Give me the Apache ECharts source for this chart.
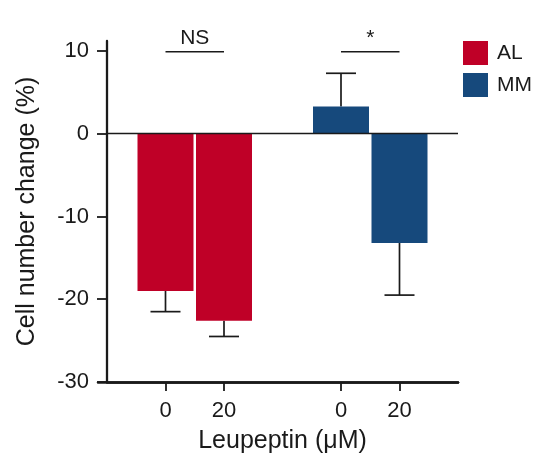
<!DOCTYPE html>
<html>
<head>
<meta charset="utf-8">
<script src="https://cdn.jsdelivr.net/npm/echarts@6/dist/echarts.min.js"></script>
<style>
  html, body { margin: 0; padding: 0; background: #fff; }
  #chart { width: 536px; height: 468px; }
</style>
</head>
<body>
<div id="chart"></div>
<script>
// ---- data ----
const categories = ['', '0', '20', '', '0', '20', ''];
const alValues = ['-', -19.0, -22.6, '-', '-', '-', '-'];
const mmValues = ['-', '-', '-', '-', 3.3, -13.2, '-'];
const alErrors = [null, 2.5, 1.9, null, null, null, null];
const mmErrors = [null, null, null, null, 4.0, 6.3, null];
const yTickValues = [-30, -20, -10, 0, 10];
const sigStart = [1, 4];
const sigEnd = [2, 5];
const sigLevel = [9.9, 9.9];
const sigLabels = ['NS', '*'];

// ---- build error-bar data from the arrays ----
function errData(values, errors) {
  const out = [];
  values.forEach((v, i) => {
    if (v !== '-' && errors[i] != null) {
      out.push([i, v, v + Math.sign(v) * errors[i]]);
    }
  });
  return out;
}
const errorData = errData(alValues, alErrors).concat(errData(mmValues, mmErrors));
const sigData = sigStart.map((s, i) => [s, sigEnd[i], sigLevel[i]]);

const FONT = '"Liberation Sans", Arial, Helvetica, sans-serif';
const TXT = '#1a1a1a';
const LINE = '#1a1a1a';

const chart = echarts.init(document.getElementById('chart'), null, { renderer: 'canvas' });

chart.setOption({
  animation: false,
  backgroundColor: '#fff',
  textStyle: { fontFamily: FONT },
  legend: {
    data: ['AL', 'MM'],
    orient: 'vertical',
    left: 458,
    top: 36,
    itemWidth: 25,
    itemHeight: 24,
    itemGap: 8,
    icon: 'rect',
    textStyle: { fontSize: 21, color: TXT, fontFamily: FONT, padding: [0, 0, 0, 4] }
  },
  grid: [
    { left: 107, right: 78, top: 41, bottom: 86, containLabel: false },
    { left: 98, right: 78, top: 41, bottom: 86, containLabel: false }
  ],
  xAxis: [
    {
      gridIndex: 0,
      type: 'category',
      data: categories,
      boundaryGap: false,
      axisLine: { onZero: false, lineStyle: { color: LINE, width: 2.5 } },
      axisTick: {
        show: true,
        inside: false,
        length: 9,
        interval: (idx, val) => val !== '',
        lineStyle: { color: LINE, width: 1.8 }
      },
      axisLabel: {
        interval: 0,
        fontSize: 22,
        color: TXT,
        margin: 18,
        fontFamily: FONT
      },
      splitLine: { show: false },
      name: 'Leupeptin (\u03bcM)',
      nameLocation: 'middle',
      nameGap: 47,
      nameTextStyle: { fontSize: 25, color: TXT, fontFamily: FONT }
    },
    {
      gridIndex: 1,
      type: 'value',
      min: 0,
      max: 1,
      axisLine: { show: true, onZero: false, lineStyle: { color: LINE, width: 2.5 } },
      axisTick: { show: false },
      axisLabel: { show: false },
      splitLine: { show: false }
    }
  ],
  yAxis: [
    {
      gridIndex: 0,
      type: 'value',
      min: -30,
      max: 11.2,
      interval: 10,
      axisLine: { show: true, lineStyle: { color: LINE, width: 2.3 } },
      axisTick: {
        show: true,
        length: 10,
        customValues: yTickValues,
        lineStyle: { color: LINE, width: 1.8 }
      },
      axisLabel: {
        customValues: yTickValues,
        fontSize: 22,
        color: TXT,
        margin: 18,
        fontFamily: FONT
      },
      splitLine: { show: false },
      name: 'Cell number change (%)',
      nameLocation: 'middle',
      nameGap: 67,
      nameTextStyle: { fontSize: 25, color: TXT, fontFamily: FONT }
    },
    {
      gridIndex: 1,
      type: 'value',
      show: false
    }
  ],
  series: [
    {
      name: 'AL',
      type: 'bar',
      xAxisIndex: 0,
      yAxisIndex: 0,
      data: alValues,
      barWidth: 56,
      barGap: '-100%',
      itemStyle: { color: '#bf0027' },
      z: 3,
      markLine: {
        silent: true,
        symbol: ['none', 'none'],
        label: { show: false },
        lineStyle: { color: LINE, width: 1.4, type: 'solid' },
        data: [{ yAxis: 0 }]
      }
    },
    {
      name: 'MM',
      type: 'bar',
      xAxisIndex: 0,
      yAxisIndex: 0,
      data: mmValues,
      barWidth: 56,
      barGap: '-100%',
      itemStyle: { color: '#16497c' },
      z: 3
    },
    {
      name: 'err',
      type: 'custom',
      xAxisIndex: 0,
      yAxisIndex: 0,
      data: errorData,
      z: 2,
      silent: true,
      renderItem: function (params, api) {
        const x = api.value(0);
        const p0 = api.coord([x, api.value(1)]);
        const p1 = api.coord([x, api.value(2)]);
        const half = 15;
        const st = { stroke: LINE, lineWidth: 1.7 };
        return {
          type: 'group',
          children: [
            { type: 'line', shape: { x1: p0[0], y1: p0[1], x2: p1[0], y2: p1[1] }, style: st },
            { type: 'line', shape: { x1: p1[0] - half, y1: p1[1], x2: p1[0] + half, y2: p1[1] }, style: st }
          ]
        };
      }
    },
    {
      name: 'sig',
      type: 'custom',
      xAxisIndex: 0,
      yAxisIndex: 0,
      data: sigData,
      z: 4,
      silent: true,
      clip: false,
      renderItem: function (params, api) {
        const a = api.coord([api.value(0), api.value(2)]);
        const b = api.coord([api.value(1), api.value(2)]);
        return {
          type: 'group',
          children: [
            { type: 'line', shape: { x1: a[0], y1: a[1], x2: b[0], y2: b[1] }, style: { stroke: LINE, lineWidth: 1.5 } },
            {
              type: 'text',
              style: {
                text: sigLabels[params.dataIndex],
                x: (a[0] + b[0]) / 2,
                y: a[1] - 3,
                textAlign: 'center',
                textVerticalAlign: 'bottom',
                fontSize: 21,
                fontFamily: FONT,
                fill: TXT
              }
            }
          ]
        };
      }
    }
  ]
});
</script>
</body>
</html>
